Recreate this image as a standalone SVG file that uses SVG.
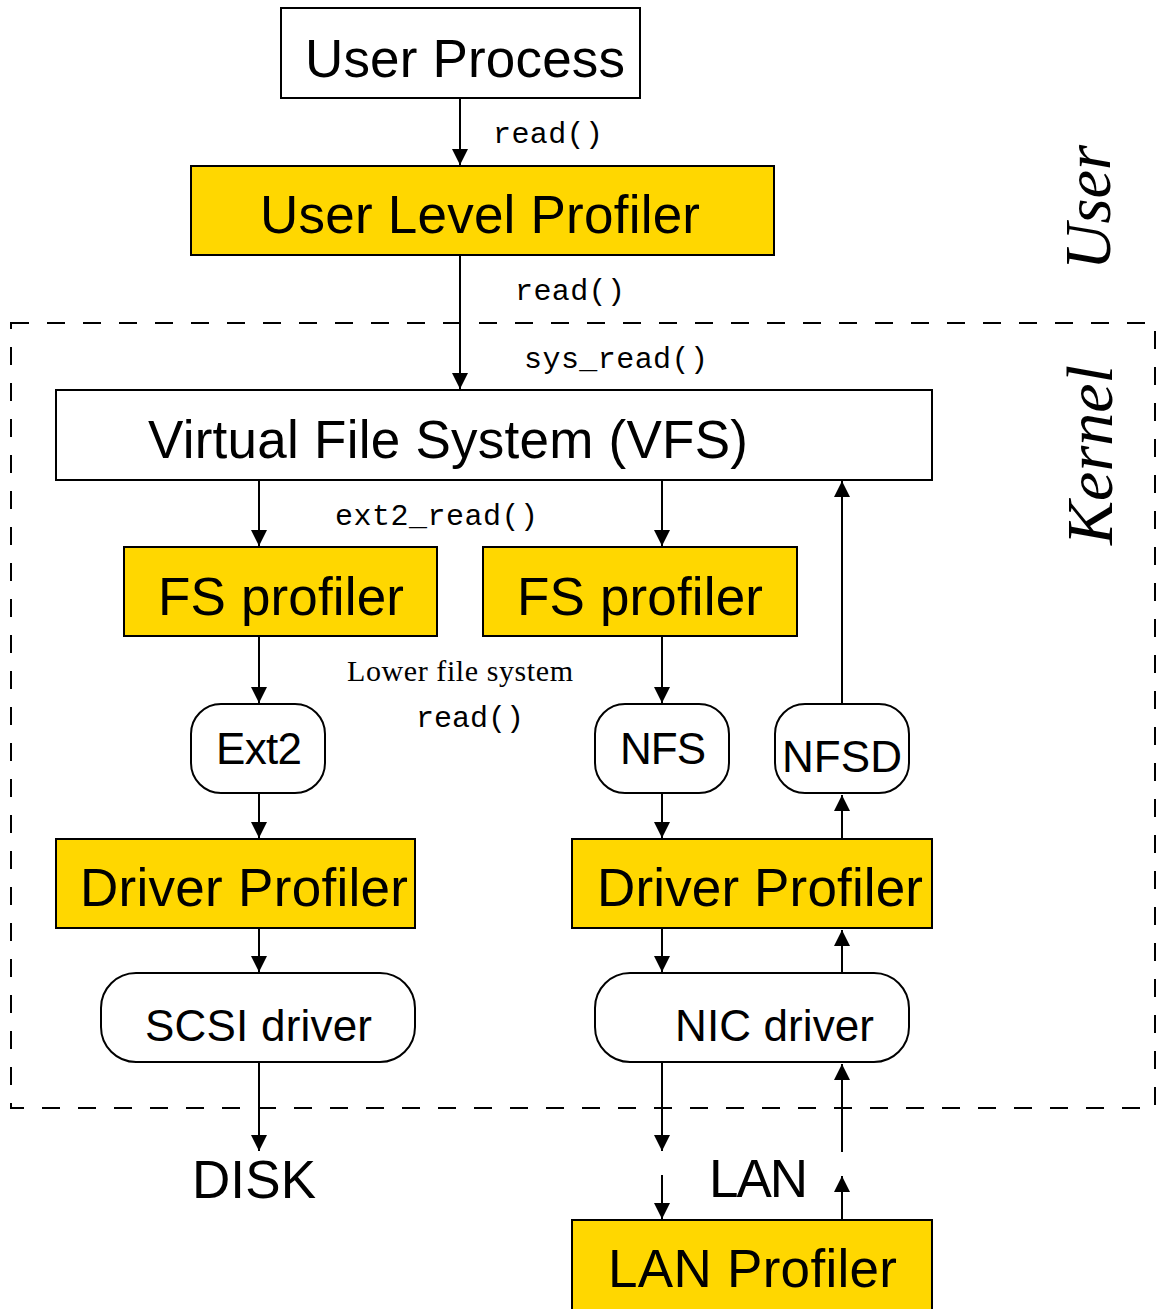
<svg xmlns="http://www.w3.org/2000/svg" width="1157" height="1309" viewBox="0 0 1157 1309">
<style>
.box{stroke:#000;stroke-width:2}
.w{fill:#fff}
.g{fill:#FFD700}
.big{font-family:"Liberation Sans",Arial,sans-serif;font-size:53px;fill:#000}
.mid{font-family:"Liberation Sans",Arial,sans-serif;font-size:44px;fill:#000}
.mono{font-family:"Liberation Mono","Courier New",monospace;font-size:30px;fill:#000}
.ser{font-family:"Liberation Serif","Times New Roman",serif;font-size:30px;fill:#000}
.ital{font-family:"Liberation Serif","Times New Roman",serif;font-style:italic;font-size:65px;fill:#000}
.c{stroke:#000;stroke-width:2;fill:none;marker-end:url(#ah)}
</style>
<defs>
<marker id="ah" markerUnits="userSpaceOnUse" markerWidth="16" markerHeight="16" refX="16" refY="8" orient="auto">
<path d="M0,0 L16,8 L0,16 z" fill="#000"/>
</marker>
</defs>
<rect width="1157" height="1309" fill="#fff"/>
<g id="kernel-boundary">
<rect x="11" y="323" width="1144" height="785" fill="none" stroke="#000" stroke-width="2" stroke-dasharray="18 18"/>
</g>
<g id="labels">
<text class="ital" transform="translate(1110,270) rotate(-90)" textLength="125" lengthAdjust="spacingAndGlyphs">User</text>
<text class="ital" transform="translate(1112,545) rotate(-90)" textLength="180" lengthAdjust="spacingAndGlyphs">Kernel</text>
<text class="mono" x="493" y="143" textLength="110">read()</text>
<text class="mono" x="515" y="300" textLength="110">read()</text>
<text class="mono" x="524" y="368" textLength="184">sys_read()</text>
<text class="mono" x="335" y="525" textLength="203">ext2_read()</text>
<text class="ser" x="347" y="681" textLength="226">Lower file system</text>
<text class="mono" x="416" y="727" textLength="108">read()</text>
<text class="big" x="192" y="1198" textLength="124">DISK</text>
<text class="big" x="709" y="1197" textLength="99">LAN</text>
</g>
<g id="connectors">
<line class="c" x1="460" y1="98" x2="460" y2="165"/>
<line class="c" x1="460" y1="255" x2="460" y2="389"/>
<line class="c" x1="259" y1="480" x2="259" y2="546"/>
<line class="c" x1="662" y1="480" x2="662" y2="546"/>
<line class="c" x1="842" y1="704" x2="842" y2="481"/>
<line class="c" x1="259" y1="636" x2="259" y2="703"/>
<line class="c" x1="662" y1="636" x2="662" y2="703"/>
<line class="c" x1="259" y1="793" x2="259" y2="838"/>
<line class="c" x1="662" y1="793" x2="662" y2="838"/>
<line class="c" x1="842" y1="839" x2="842" y2="795"/>
<line class="c" x1="259" y1="928" x2="259" y2="972"/>
<line class="c" x1="662" y1="928" x2="662" y2="972"/>
<line class="c" x1="842" y1="973" x2="842" y2="930"/>
<line class="c" x1="259" y1="1062" x2="259" y2="1151"/>
<line class="c" x1="662" y1="1062" x2="662" y2="1151"/>
<line class="c" x1="662" y1="1175" x2="662" y2="1219"/>
<line class="c" x1="842" y1="1152" x2="842" y2="1064"/>
<line class="c" x1="842" y1="1220" x2="842" y2="1176"/>
</g>
<g id="user-process">
<rect class="box w" x="281" y="8" width="359" height="90"/>
<text class="big" x="305" y="77" textLength="320">User Process</text>
</g>
<g id="user-level-profiler">
<rect class="box g" x="191" y="166" width="583" height="89"/>
<text class="big" x="260" y="233" textLength="440">User Level Profiler</text>
</g>
<g id="vfs">
<rect class="box w" x="56" y="390" width="876" height="90"/>
<text class="big" x="148" y="458" textLength="600">Virtual File System (VFS)</text>
</g>
<g id="fs-profiler-left">
<rect class="box g" x="124" y="547" width="313" height="89"/>
<text class="big" x="158" y="615" textLength="246">FS profiler</text>
</g>
<g id="fs-profiler-right">
<rect class="box g" x="483" y="547" width="314" height="89"/>
<text class="big" x="517" y="615" textLength="246">FS profiler</text>
</g>
<g id="ext2">
<rect class="box w" x="191" y="704" width="134" height="89" rx="30"/>
<text class="mid" x="216" y="764" textLength="86">Ext2</text>
</g>
<g id="nfs">
<rect class="box w" x="595" y="704" width="134" height="89" rx="30"/>
<text class="mid" x="620" y="764" textLength="86">NFS</text>
</g>
<g id="nfsd">
<rect class="box w" x="775" y="704" width="134" height="89" rx="30"/>
<text class="mid" x="782" y="772" textLength="120">NFSD</text>
</g>
<g id="driver-profiler-left">
<rect class="box g" x="56" y="839" width="359" height="89"/>
<text class="big" x="80" y="906" textLength="328">Driver Profiler</text>
</g>
<g id="driver-profiler-right">
<rect class="box g" x="572" y="839" width="360" height="89"/>
<text class="big" x="597" y="906" textLength="326">Driver Profiler</text>
</g>
<g id="scsi-driver">
<rect class="box w" x="101" y="973" width="314" height="89" rx="35"/>
<text class="mid" x="145" y="1041" textLength="227">SCSI driver</text>
</g>
<g id="nic-driver">
<rect class="box w" x="595" y="973" width="314" height="89" rx="35"/>
<text class="mid" x="675" y="1041" textLength="199">NIC driver</text>
</g>
<g id="lan-profiler">
<rect class="box g" x="572" y="1220" width="360" height="100"/>
<text class="big" x="608" y="1287" textLength="289">LAN Profiler</text>
</g>
</svg>
